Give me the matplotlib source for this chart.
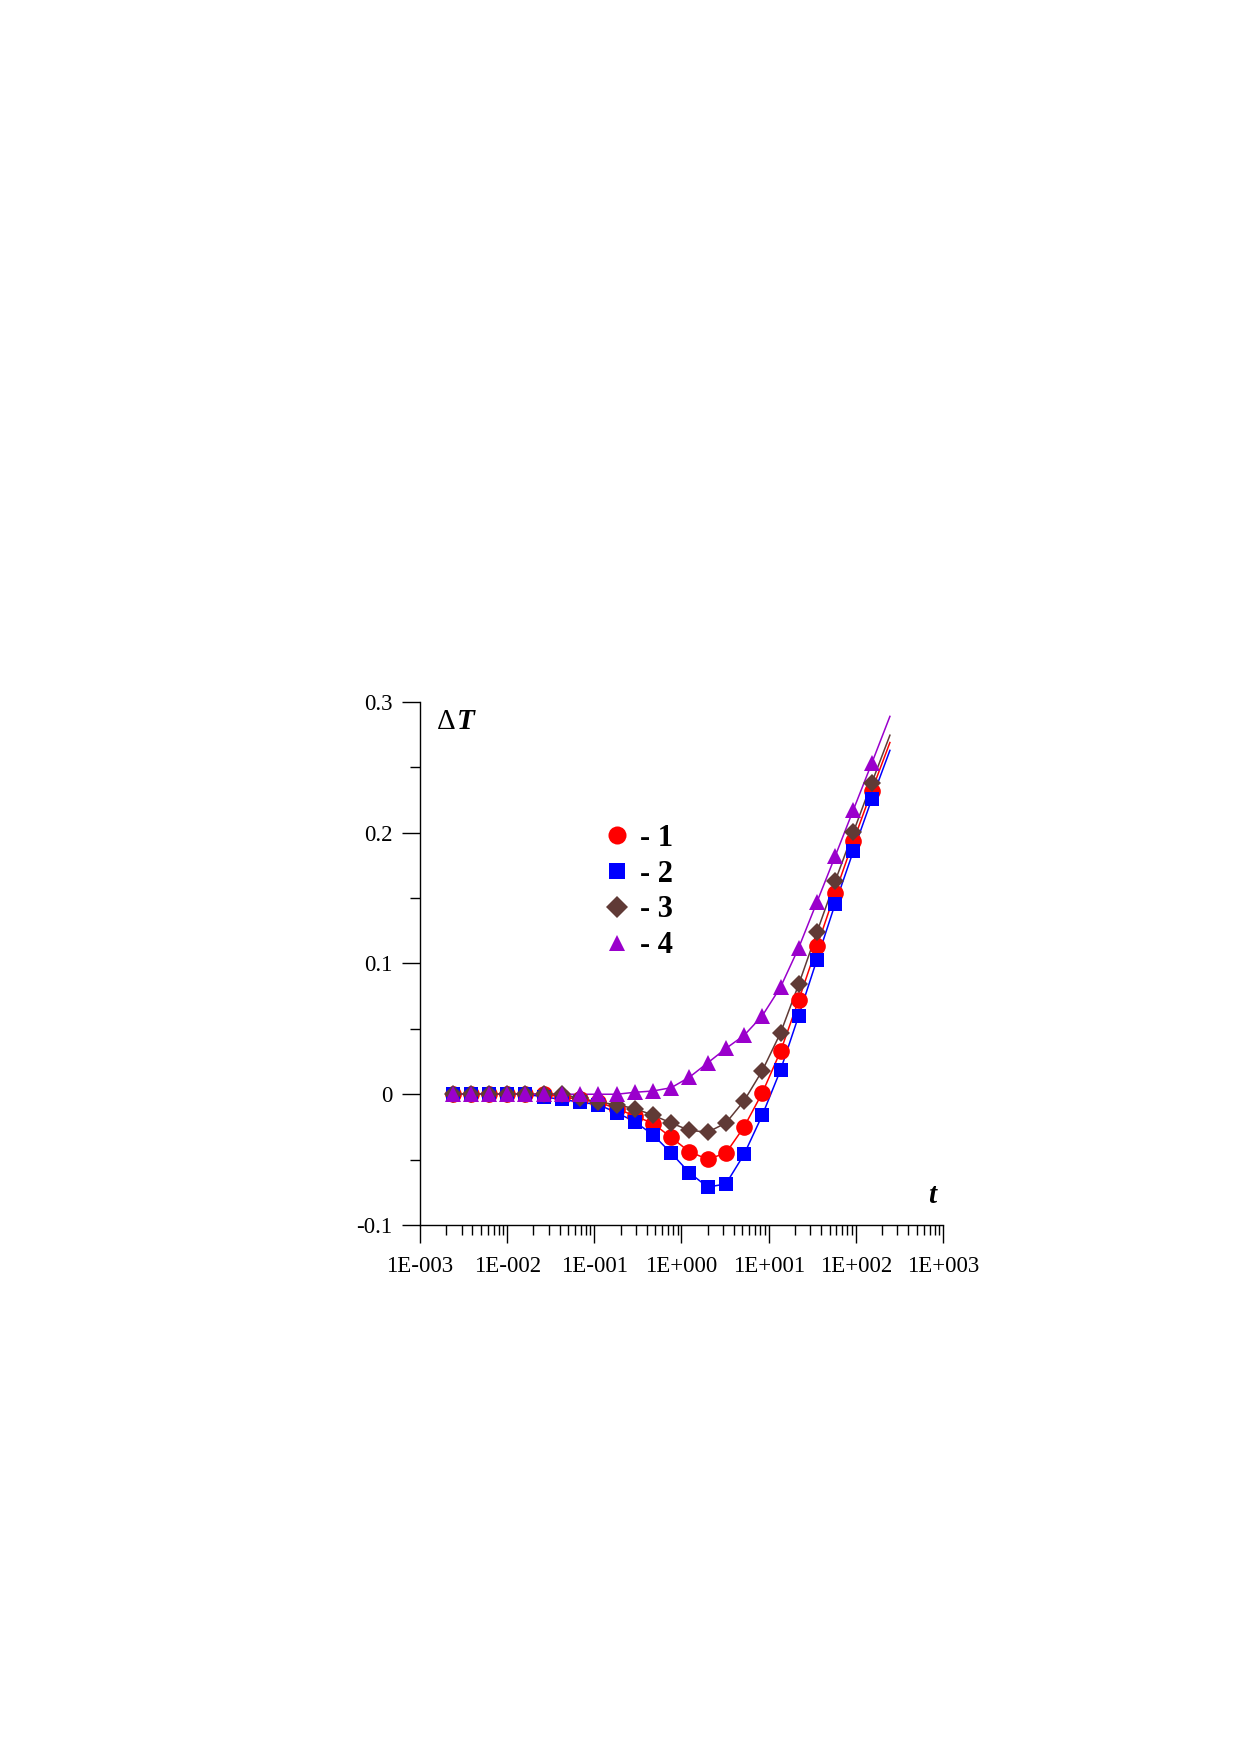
import numpy as np
import matplotlib
matplotlib.use('Agg')
from matplotlib import pyplot as plt
import matplotlib.ticker as ticker
from matplotlib.lines import Line2D

plt.rcParams['font.family'] = ['Liberation Serif', 'DejaVu Serif']

# data
t = [0.00236, 0.00382, 0.00618, 0.0100, 0.0162, 0.0262, 0.0424, 0.0686,
     0.111, 0.180, 0.291, 0.471, 0.762, 1.23, 2.00, 3.23, 5.22, 8.45,
     13.7, 22.1, 35.8, 57.9, 93.7, 152]
t_end = 246

dT1 = [0, 0, 0, 0, 0, 0, -0.002, -0.004, -0.006, -0.011, -0.0165, -0.0224,
       -0.033, -0.044, -0.0497, -0.045, -0.025, 0.001, 0.033, 0.072, 0.113,
       0.154, 0.1935, 0.232]
dT2 = [0, 0, 0, 0, 0, -0.002, -0.004, -0.006, -0.008, -0.014, -0.021, -0.031,
       -0.045, -0.060, -0.071, -0.0686, -0.046, -0.016, 0.0186, 0.060, 0.103,
       0.1456, 0.186, 0.2255]
dT3 = [0, 0, 0, 0, 0, 0, 0, -0.003, -0.006, -0.008, -0.011, -0.016,
       -0.022, -0.0276, -0.029, -0.022, -0.005, 0.018, 0.047, 0.084, 0.124,
       0.163, 0.2005, 0.238]
dT4 = [0, 0, 0, 0, 0, 0, 0, 0, 0, 0, 0.0015, 0.0025,
       0.005, 0.013, 0.024, 0.035, 0.045, 0.06, 0.082, 0.112, 0.147,
       0.182, 0.2175, 0.253]
end_vals = [0.269, 0.263, 0.2746, 0.289]

labels = ['- 1', '- 2', '- 3', '- 4']
xtick_vals = [1e-3, 1e-2, 1e-1, 1e0, 1e1, 1e2, 1e3]
xtick_labels = ['1E-003', '1E-002', '1E-001', '1E+000', '1E+001', '1E+002', '1E+003']
ytick_vals = [-0.1, 0, 0.1, 0.2, 0.3]
ytick_labels = ['-0.1', '0', '0.1', '0.2', '0.3']

colors = ['#ff0000', '#0000ff', '#603a36', '#9a00cc']
markers = ['o', 's', 'D', '^']
msizes = [12, 10, 9, 12]
leg_sizes = [13, 12, 11, 11]

fig = plt.figure(figsize=(12.39, 17.52), dpi=100)
ax = fig.add_axes([0.33898, 0.30080, 0.42212, 0.29852])

for i, y in enumerate([dT1, dT2, dT3, dT4]):
    ax.plot(t + [t_end], y + [end_vals[i]], color=colors[i], lw=1.1, zorder=2)
for i, y in enumerate([dT1, dT2, dT3, dT4]):
    ax.plot(t, y, ls='none', marker=markers[i], ms=msizes[i], color=colors[i],
            mec=colors[i], mew=0, zorder=3 + i)

ax.set_xscale('log')
ax.set_xlim(1e-3, 1e3)
ax.set_ylim(-0.1, 0.3)
ax.set_xticks(xtick_vals)
ax.set_xticklabels(xtick_labels)
ax.xaxis.set_minor_locator(ticker.LogLocator(base=10, subs=np.arange(2, 10)))
ax.xaxis.set_minor_formatter(ticker.NullFormatter())
ax.set_yticks(ytick_vals)
ax.set_yticklabels(ytick_labels)
ax.yaxis.set_minor_locator(ticker.MultipleLocator(0.05))

for s in ['top', 'right']:
    ax.spines[s].set_visible(False)
for s in ['left', 'bottom']:
    ax.spines[s].set_linewidth(1.0)

ax.tick_params(which='major', direction='out', length=13, width=1, labelsize=16.5, pad=7)
ax.tick_params(axis='x', which='major', pad=9)
ax.tick_params(which='minor', direction='out', length=7, width=1)

# axis titles inside
ax.text(0.032, 0.962, '\u0394', transform=ax.transAxes, fontsize=21,
        ha='left', va='center')
ax.text(0.070, 0.962, 'T', transform=ax.transAxes, fontsize=21,
        fontweight='bold', fontstyle='italic', ha='left', va='center')
ax.text(0.979, 0.057, 't', transform=ax.transAxes, fontsize=21,
        fontweight='bold', fontstyle='italic', ha='center', va='center')

handles = [Line2D([], [], ls='none', marker=markers[i], ms=leg_sizes[i],
                  color=colors[i], mew=0) for i in range(4)]
leg = ax.legend(handles, labels, loc='upper left', bbox_to_anchor=(0.325, 0.79),
                frameon=False, handlelength=1.0, handletextpad=0.25,
                labelspacing=0.22, borderaxespad=0,
                prop={'family': 'Liberation Serif', 'weight': 'bold', 'size': 22})

fig.savefig('out.png', dpi=100)
